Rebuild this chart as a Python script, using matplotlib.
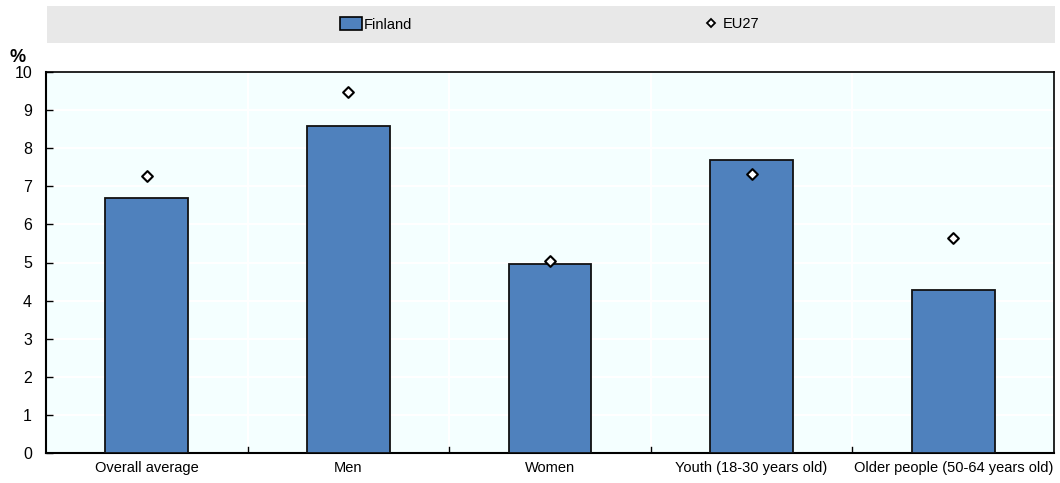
import numpy as np
import matplotlib
matplotlib.use("Agg")
import matplotlib.pyplot as plt
from matplotlib.patches import Patch, Rectangle
from matplotlib.lines import Line2D

plt.rcParams['font.family'] = ['Liberation Sans', 'DejaVu Sans']

# ---- data ----
categories = ["Overall average", "Men", "Women", "Youth (18-30 years old)", "Older people (50-64 years old)"]
finland = [6.7, 8.58, 4.95, 7.7, 4.28]
eu27 = [7.28, 9.48, 5.05, 7.33, 5.65]
yticks = list(range(0, 11))

bar_color = "#4F81BD"
bg_color = "#F4FFFF"

fig = plt.figure(figsize=(10.6, 4.83), dpi=100)
ax = fig.add_axes([46 / 1060, 1 - 453 / 483, 1008 / 1060, 381 / 483])
ax.set_facecolor(bg_color)

x = np.arange(len(categories))
ax.bar(x, finland, width=0.41, color=bar_color, edgecolor="#111111", linewidth=1.3, zorder=3)
ax.scatter(x, eu27, marker="D", s=30, facecolor="white", edgecolor="black", linewidth=1.5, zorder=4)

ax.set_xlim(-0.5, len(categories) - 0.5)
ax.set_ylim(0, 10)
ax.set_yticks(yticks)
ax.set_yticklabels([str(v) for v in yticks], fontsize=11.5)
ax.set_xticks(x)
ax.set_xticklabels(categories, fontsize=10.5)
ax.tick_params(axis="x", length=0, pad=6)
ax.tick_params(axis="y", direction="in", length=5, width=1, pad=10)

# grid: white lines
for yv in yticks[1:]:
    ax.axhline(yv, color="white", linewidth=1.5, zorder=1)
for b in np.arange(0.5, len(categories) - 0.5, 1):
    ax.axvline(b, color="white", linewidth=1.5, zorder=1)
    ax.plot([b, b], [0, 0.15], color="black", linewidth=1, zorder=2)

for s in ax.spines.values():
    s.set_color("black")
    s.set_linewidth(1.2)
ax.spines["left"].set_linewidth(1.5)
ax.spines["bottom"].set_linewidth(1.5)

ax.text(-0.036, 1.015, "%", transform=ax.transAxes, fontsize=13, fontweight="bold", ha="left", va="bottom")

# legend band
fig.patches.append(Rectangle((47 / 1060, 1 - 43 / 483), 1008 / 1060, 37 / 483,
                             transform=fig.transFigure, facecolor="#E8E8E8", edgecolor="none", zorder=0))
ly = 1 - 24.5 / 483
h1 = [Patch(facecolor=bar_color, edgecolor="black", linewidth=1.2, label="Finland")]
h2 = [Line2D([], [], marker="D", linestyle="none", markersize=4.5, markerfacecolor="white",
             markeredgecolor="black", markeredgewidth=1.3, label="EU27")]
fig.legend(handles=h1, loc="center left", bbox_to_anchor=(327 / 1060, ly), frameon=False,
           fontsize=10.5, handlelength=1.5, handleheight=0.9, handletextpad=0.15)
fig.legend(handles=h2, loc="center left", bbox_to_anchor=(692 / 1060, ly), frameon=False,
           fontsize=10.5, handlelength=0.8, handletextpad=0.4)

fig.savefig("out.png", dpi=100)
